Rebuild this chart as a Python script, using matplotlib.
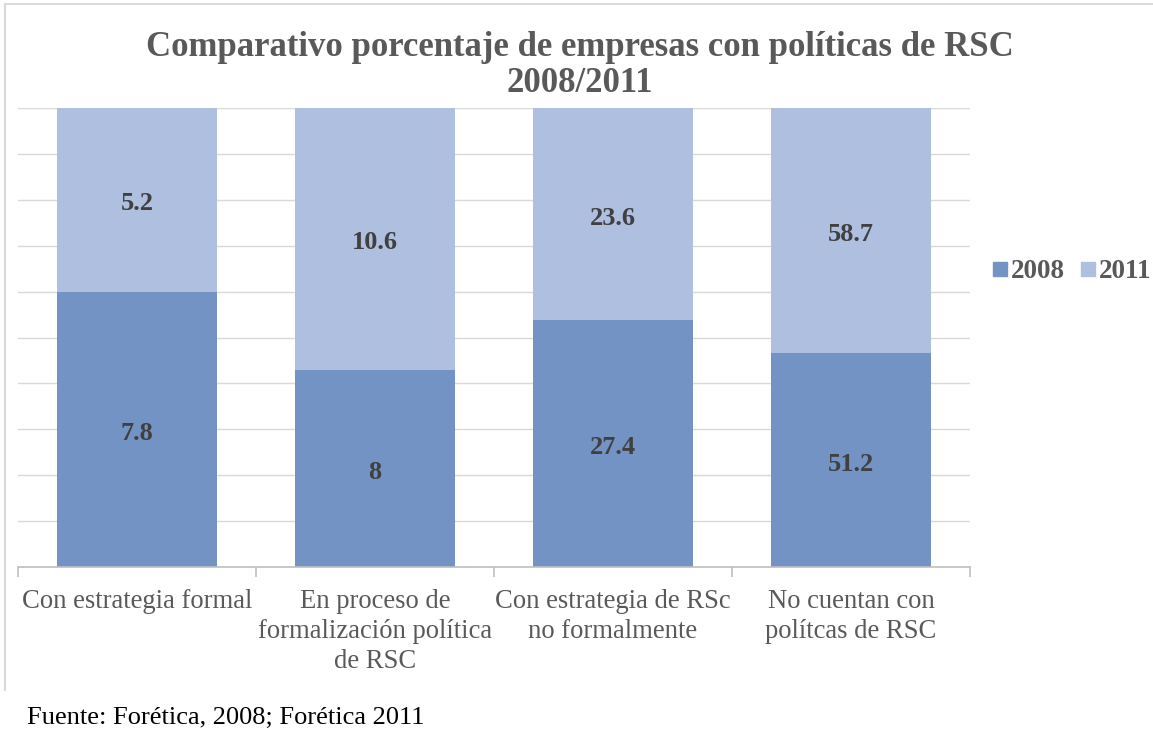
import matplotlib
matplotlib.use("Agg")
import matplotlib.pyplot as plt
import numpy as np
from matplotlib.lines import Line2D

categories = ["Con estrategia formal",
              "En proceso de\nformalización política\nde RSC",
              "Con estrategia de RSc\nno formalmente",
              "No cuentan con\npolítcas de RSC"]
values_2008 = [7.8, 8, 27.4, 51.2]
values_2011 = [5.2, 10.6, 23.6, 58.7]
labels_2008 = ["7.8", "8", "27.4", "51.2"]
labels_2011 = ["5.2", "10.6", "23.6", "58.7"]
series_names = ["2008", "2011"]

c2008 = "#7493c5"
c2011 = "#afbfe0"
serif = ["Liberation Serif", "DejaVu Serif"]

fig = plt.figure(figsize=(11.53, 7.32), dpi=100)
ax = fig.add_axes([18/1153, 1-567/732, 952/1153, 459/732])

v08 = np.array(values_2008, dtype=float)
v11 = np.array(values_2011, dtype=float)
tot = v08 + v11
p08 = v08 / tot * 100
p11 = v11 / tot * 100
x = np.arange(len(categories))
w = 0.67
ax.bar(x, p08, w, color=c2008, zorder=2, label=series_names[0])
ax.bar(x, p11, w, bottom=p08, color=c2011, zorder=2, label=series_names[1])

for i in range(len(x)):
    ax.annotate(labels_2008[i], (x[i], p08[i]/2), xytext=(0, -3), textcoords="offset points",
                ha="center", va="center", fontsize=19, fontweight="bold",
                color="#404040", family=serif, zorder=3)
    ax.annotate(labels_2011[i], (x[i], p08[i] + p11[i]/2), xytext=(0, -3),
                textcoords="offset points", ha="center", va="center", fontsize=19,
                fontweight="bold", color="#404040", family=serif, zorder=3)

ax.set_xlim(-0.5, len(categories) - 0.5)
ax.set_ylim(0, 100)
ax.set_yticks(np.arange(0, 101, 10))
ax.yaxis.grid(True, color="#d9d9d9", linewidth=1, zorder=0)
ax.tick_params(axis="y", left=False, labelleft=False)
for s in ["top", "right", "left"]:
    ax.spines[s].set_visible(False)
ax.spines["bottom"].set_color("#bfbfbf")
ax.spines["bottom"].set_linewidth(1.2)
ax.spines["bottom"].set_zorder(4)

ax.set_xticks(x)
ax.set_xticklabels(categories, fontsize=19.2, color="#595959", family=serif, linespacing=1.25)
ax.tick_params(axis="x", which="major", length=0, pad=16)
ax.set_xticks(np.arange(-0.5, len(categories), 1.0), minor=True)
ax.tick_params(axis="x", which="minor", length=7, color="#bfbfbf", width=1.2)

fig.text(580/1153, 1 - 65/732,
         "Comparativo porcentaje de empresas con políticas de RSC\n2008/2011",
         ha="center", va="center", fontsize=25, fontweight="bold", color="#595959",
         family=serif, linespacing=1.12)

leg = fig.legend(handles=[Line2D([], [], marker="s", linestyle="none", markersize=10,
                                 color=c2008, label="2008"),
                          Line2D([], [], marker="s", linestyle="none", markersize=10,
                                 color=c2011, label="2011")],
                 loc="center left", bbox_to_anchor=(993/1153, 1 - 272/732), ncol=2,
                 frameon=False, handletextpad=0.15, columnspacing=0.6, handlelength=0.5,
                 prop={"family": serif, "weight": "bold", "size": 19.5}, borderpad=0,
                 borderaxespad=0)
for t in leg.get_texts():
    t.set_color("#595959")

fig.text(27/1153, 1 - 718/732, "Fuente: Forética, 2008; Forética 2011",
         ha="left", va="center", fontsize=19, color="black", family=serif)

fig.add_artist(Line2D([5/1153, 5/1153], [1 - 4/732, 1 - 690/732],
                      transform=fig.transFigure, color="#d9d9d9", linewidth=1.5))
fig.add_artist(Line2D([5/1153, 1.0], [1 - 4/732, 1 - 4/732],
                      transform=fig.transFigure, color="#d9d9d9", linewidth=1.5))

fig.savefig("out.png", dpi=100)
